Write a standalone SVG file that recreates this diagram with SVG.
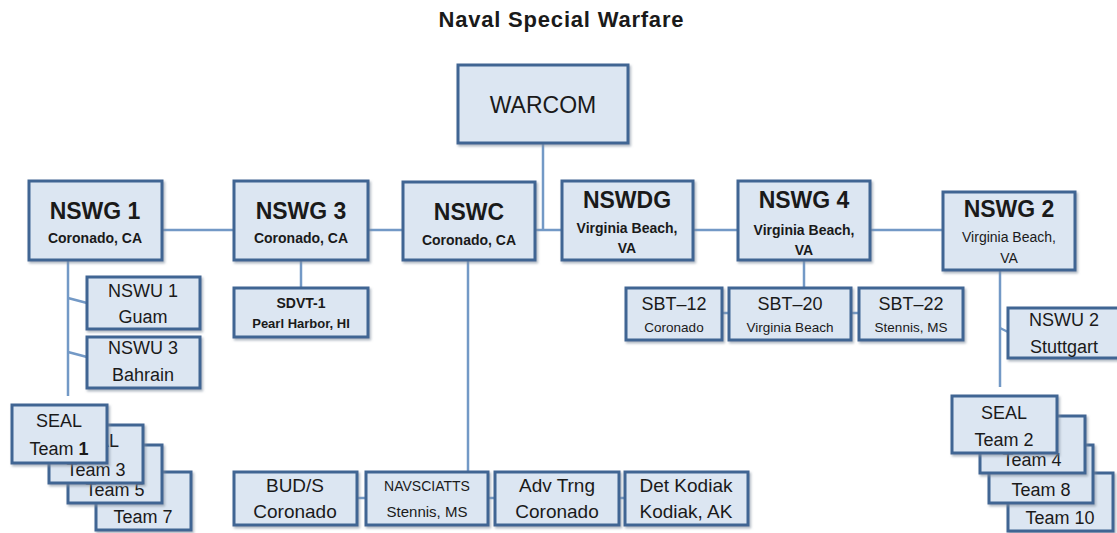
<svg xmlns="http://www.w3.org/2000/svg" width="1117" height="533" viewBox="0 0 1117 533">
<style>
  .bx { fill: #dce6f2; stroke: #3f6593; stroke-width: 3; filter: url(#sh); }
  .cn { stroke: #7399c6; stroke-width: 2.5; fill: none; }
  text { font-family: "Liberation Sans", Arial, sans-serif; fill: #1a1a1a; text-anchor: middle; }
  .t23 { font-size: 23px; font-weight: bold; }
  .s14b { font-size: 14px; font-weight: bold; }
  .s14 { font-size: 14px; }
  .s18 { font-size: 18px; }
  .s19 { font-size: 19px; }
  .s13 { font-size: 13.5px; }
</style>
<defs>
  <filter id="sh" x="-10%" y="-10%" width="125%" height="130%">
    <feDropShadow dx="1.5" dy="2" stdDeviation="1" flood-color="#7f8c9c" flood-opacity="0.6"/>
  </filter>
</defs>
<rect width="1117" height="533" fill="#ffffff"/>
<text x="561" y="27" font-size="22" font-weight="bold" textLength="245" lengthAdjust="spacing">Naval Special Warfare</text>

<g id="connectors">
  <line class="cn" x1="543" y1="143" x2="543" y2="230"/>
  <line class="cn" x1="162" y1="230" x2="943" y2="230"/>
  <line class="cn" x1="68" y1="260" x2="68" y2="396"/>
  <line class="cn" x1="68" y1="298" x2="87" y2="303"/>
  <line class="cn" x1="68" y1="352" x2="87" y2="357"/>
  <line class="cn" x1="301" y1="260" x2="301" y2="288"/>
  <line class="cn" x1="468" y1="260" x2="468" y2="472"/>
  <line class="cn" x1="357" y1="498" x2="625" y2="498"/>
  <line class="cn" x1="804" y1="260" x2="804" y2="288"/>
  <line class="cn" x1="722" y1="313" x2="859" y2="313"/>
  <line class="cn" x1="1000" y1="270" x2="1000" y2="387"/>
  <line class="cn" x1="1000" y1="328" x2="1008" y2="332"/>
</g>

<g id="warcom">
  <rect class="bx" x="458" y="65" width="170" height="78"/>
  <text x="543" y="113" font-size="23">WARCOM</text>
</g>
<g id="nswg1">
  <rect class="bx" x="29" y="181" width="133" height="79"/>
  <text class="t23" x="95" y="219">NSWG 1</text>
  <text class="s14b" x="95" y="243">Coronado, CA</text>
</g>
<g id="nswg3">
  <rect class="bx" x="234" y="181" width="134" height="79"/>
  <text class="t23" x="301" y="219">NSWG 3</text>
  <text class="s14b" x="301" y="243">Coronado, CA</text>
</g>
<g id="nswc">
  <rect class="bx" x="403" y="182" width="132" height="78"/>
  <text class="t23" x="469" y="220">NSWC</text>
  <text class="s14b" x="469" y="245">Coronado, CA</text>
</g>
<g id="nswdg">
  <rect class="bx" x="562" y="181" width="131" height="79"/>
  <text class="t23" x="627" y="208">NSWDG</text>
  <text class="s14b" x="627" y="233">Virginia Beach,</text>
  <text class="s14b" x="627" y="253">VA</text>
</g>
<g id="nswg4">
  <rect class="bx" x="738" y="181" width="132" height="79"/>
  <text class="t23" x="804" y="208">NSWG 4</text>
  <text class="s14b" x="804" y="235">Virginia Beach,</text>
  <text class="s14b" x="804" y="255">VA</text>
</g>
<g id="nswg2">
  <rect class="bx" x="943" y="192" width="132" height="78"/>
  <text class="t23" x="1009" y="217">NSWG 2</text>
  <text class="s14" x="1009" y="242">Virginia Beach,</text>
  <text class="s14" x="1009" y="263">VA</text>
</g>

<g id="nswu1">
  <rect class="bx" x="87" y="277" width="113" height="52"/>
  <text class="s18" x="143" y="297">NSWU 1</text>
  <text class="s18" x="143" y="323">Guam</text>
</g>
<g id="nswu3">
  <rect class="bx" x="87" y="337" width="113" height="51"/>
  <text class="s18" x="143" y="354">NSWU 3</text>
  <text class="s18" x="143" y="381">Bahrain</text>
</g>

<g id="team7">
  <rect class="bx" x="96" y="472" width="95" height="58"/>
  <text class="s18" x="143" y="523">Team 7</text>
</g>
<g id="team5">
  <rect class="bx" x="68" y="445" width="94" height="58"/>
  <text class="s18" x="115" y="496">Team 5</text>
</g>
<g id="team3">
  <rect class="bx" x="49" y="425" width="94" height="58"/>
  <text class="s18" x="96" y="447">SEAL</text>
  <text class="s18" x="96" y="476">Team 3</text>
</g>
<g id="team1">
  <rect class="bx" x="12" y="405" width="95" height="58"/>
  <text class="s18" x="59" y="427">SEAL</text>
  <text class="s18" x="59" y="455">Team <tspan font-weight="bold">1</tspan></text>
</g>

<g id="sdvt1">
  <rect class="bx" x="234" y="288" width="134" height="49"/>
  <text class="s14b" x="301" y="308">SDVT-1</text>
  <text font-size="13" font-weight="bold" x="301" y="328">Pearl Harbor, HI</text>
</g>

<g id="buds">
  <rect class="bx" x="234" y="472" width="123" height="53"/>
  <text class="s19" x="295" y="492">BUD/S</text>
  <text class="s19" x="295" y="518">Coronado</text>
</g>
<g id="navsciatts">
  <rect class="bx" x="366" y="472" width="122" height="53"/>
  <text font-size="14" x="427" y="491">NAVSCIATTS</text>
  <text font-size="15" x="427" y="517">Stennis, MS</text>
</g>
<g id="advtrng">
  <rect class="bx" x="495" y="472" width="124" height="53"/>
  <text class="s19" x="557" y="492">Adv Trng</text>
  <text class="s19" x="557" y="518">Coronado</text>
</g>
<g id="detkodiak">
  <rect class="bx" x="625" y="472" width="123" height="53"/>
  <text class="s19" x="686" y="492">Det Kodiak</text>
  <text class="s19" x="686" y="518">Kodiak, AK</text>
</g>

<g id="sbt12">
  <rect class="bx" x="626" y="288" width="96" height="52"/>
  <text class="s18" x="674" y="310">SBT–12</text>
  <text class="s13" x="674" y="332">Coronado</text>
</g>
<g id="sbt20">
  <rect class="bx" x="729" y="288" width="122" height="52"/>
  <text class="s18" x="790" y="310">SBT–20</text>
  <text class="s13" x="790" y="332">Virginia Beach</text>
</g>
<g id="sbt22">
  <rect class="bx" x="859" y="288" width="104" height="52"/>
  <text class="s18" x="911" y="310">SBT–22</text>
  <text class="s13" x="911" y="332">Stennis, MS</text>
</g>

<g id="nswu2">
  <rect class="bx" x="1008" y="308" width="113" height="50"/>
  <text class="s18" x="1064" y="326">NSWU 2</text>
  <text class="s18" x="1064" y="353">Stuttgart</text>
</g>

<g id="team10">
  <rect class="bx" x="1008" y="473" width="105" height="58"/>
  <text class="s18" x="1060" y="524">Team 10</text>
</g>
<g id="team8">
  <rect class="bx" x="989" y="445" width="104" height="58"/>
  <text class="s18" x="1041" y="496">Team 8</text>
</g>
<g id="team4">
  <rect class="bx" x="980" y="416" width="105" height="57"/>
  <text class="s18" x="1032" y="466">Team 4</text>
</g>
<g id="team2">
  <rect class="bx" x="952" y="396" width="105" height="57"/>
  <text class="s18" x="1004" y="419">SEAL</text>
  <text class="s18" x="1004" y="446">Team 2</text>
</g>
</svg>
